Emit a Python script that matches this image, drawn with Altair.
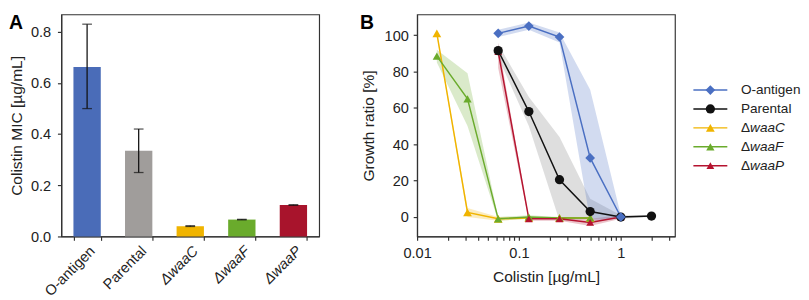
import altair as alt
import pandas as pd

FONT = "Liberation Sans"

# ---------------- Panel A data ----------------
strains = ["O-antigen", "Parental", "ΔwaaC", "ΔwaaF", "ΔwaaP"]
mic = [0.663, 0.335, 0.040, 0.066, 0.123]
mic_lo = [0.500, 0.250, 0.039, 0.065, 0.122]
mic_hi = [0.830, 0.420, 0.042, 0.067, 0.124]
bar_colors = ["#4a6cb8", "#a09d9b", "#f0b400", "#6aab2c", "#a8142c"]

# ---------------- Panel B data ----------------
series = ["O-antigen", "Parental", "ΔwaaC", "ΔwaaF", "ΔwaaP"]
line_colors = ["#4a6fc2", "#111111", "#f0b400", "#6aab2c", "#b5132f"]
band_colors = ["#4a6fc2", "#7a7a7a", "#f0b400", "#6aab2c", "#b5132f"]
shapes = ["diamond", "circle", "triangle-up", "triangle-up", "triangle-up"]
sizes = [100, 64, 70, 70, 70]

conc_waaC = [0.015625, 0.03125, 0.0625, 0.125, 0.25, 0.5]
mean_waaC = [101, 2.5, -1, -0.5, -0.5, -0.5]
lo_waaC = [100, 0, -2, -1, -1, -1]
hi_waaC = [102, 5, 0, 0, 0, 0]

conc_waaF = [0.015625, 0.03125, 0.0625, 0.125, 0.25, 0.5]
mean_waaF = [88.5, 65, -1, 0, -0.5, -0.5]
lo_waaF = [85, 50, -2, -1, -1, -1]
hi_waaF = [92, 79, 0, 1, 0, 0]

conc_waaP = [0.0625, 0.125, 0.25, 0.5, 1]
mean_waaP = [91, -1, -1, -3, 0]
lo_waaP = [82, -2, -2, -5, -1]
hi_waaP = [96, 0, 0, -1, 1]

conc_par = [0.0625, 0.125, 0.25, 0.5, 1, 2]
mean_par = [91.5, 58, 20.5, 3, 0, 0.5]
lo_par = [88, 50, -2, -1, -1, 0]
hi_par = [95, 66, 44, 10, 1, 1]

conc_oant = [0.0625, 0.125, 0.25, 0.5, 1]
mean_oant = [101, 105, 99, 32.5, 0]
lo_oant = [99, 103, 96, -2, -1]
hi_oant = [103, 107, 101.5, 70, 1]

x_ticks = [0.01, 0.02, 0.03, 0.04, 0.05, 0.06, 0.07, 0.08, 0.09,
           0.1, 0.2, 0.3, 0.4, 0.5, 0.6, 0.7, 0.8, 0.9, 1, 2, 3]

# legend table
leg_prefix = ["", "", "Δ", "Δ", "Δ"]
leg_name = ["O-antigen", "Parental", "waaC", "waaF", "waaP"]
leg_italic = [False, False, True, True, True]

# ---------------- build tables ----------------
dfA = pd.DataFrame({"strain": strains, "mic": mic, "lo": mic_lo, "hi": mic_hi})

parts = []
for name, c, m, lo, hi in [
    ("ΔwaaC", conc_waaC, mean_waaC, lo_waaC, hi_waaC),
    ("ΔwaaF", conc_waaF, mean_waaF, lo_waaF, hi_waaF),
    ("ΔwaaP", conc_waaP, mean_waaP, lo_waaP, hi_waaP),
    ("Parental", conc_par, mean_par, lo_par, hi_par),
    ("O-antigen", conc_oant, mean_oant, lo_oant, hi_oant),
]:
    parts.append(pd.DataFrame({"series": name, "conc": c, "mean": m, "lo": lo, "hi": hi}))
dfB = pd.concat(parts, ignore_index=True)

dfL = pd.DataFrame({"series": series, "prefix": leg_prefix, "name": leg_name,
                    "italic": leg_italic})

# ---------------- Panel A ----------------
W, H = 266, 229
frame = alt.ViewBackground(stroke="#333333", strokeWidth=1.2)

xA = alt.X("strain:N", sort=strains,
           scale=alt.Scale(paddingInner=0.47, paddingOuter=0.235),
           axis=alt.Axis(title=None, labelAngle=-45, tickBand="extent",
                         labelFontSize=15, tickSize=4, labelPadding=3,
                         labelFontStyle={"condition": {"test": "indexof(datum.label, 'Δ') == 0",
                                                       "value": "italic"},
                                         "value": "normal"}))
yA = alt.Y("mic:Q", scale=alt.Scale(domain=[0, 0.868], nice=False),
           axis=alt.Axis(values=[0, 0.2, 0.4, 0.6, 0.8], format=".1f",
                         title="Colistin MIC [µg/mL]", grid=False, labelFlush=False,
                         tickSize=4, labelPadding=7, titlePadding=6))

bars = alt.Chart(dfA).mark_bar().encode(
    x=xA, y=yA,
    color=alt.Color("strain:N", scale=alt.Scale(domain=strains, range=bar_colors), legend=None),
)
err = alt.Chart(dfA).mark_rule(color="#111111", strokeWidth=1.3).encode(
    x=alt.X("strain:N", sort=strains), y="lo:Q", y2="hi:Q")
cap_lo = alt.Chart(dfA).mark_tick(color="#111111", thickness=1.3, size=10).encode(
    x=alt.X("strain:N", sort=strains), y="lo:Q")
cap_hi = alt.Chart(dfA).mark_tick(color="#111111", thickness=1.3, size=10).encode(
    x=alt.X("strain:N", sort=strains), y="hi:Q")
labA = alt.Chart(pd.DataFrame({"t": ["A"]})).mark_text(
    font=FONT, fontSize=20, fontWeight="bold", align="left", baseline="top").encode(
    x=alt.value(-54), y=alt.value(-1), text="t:N")

panelA = alt.layer(bars, err, cap_lo, cap_hi, labA).properties(width=W, height=H, view=frame)

# ---------------- Panel B ----------------
xB = alt.X("conc:Q", scale=alt.Scale(type="log", domain=[0.01, 3.4], nice=False),
           axis=alt.Axis(values=x_ticks, title="Colistin [µg/mL]", grid=False,
                         labelFlush=False, labelOverlap=False,
                         tickSize=4, labelPadding=6, titlePadding=8, labelFontSize=15,
                         labelExpr="abs(datum.value-0.01)<1e-9 ? '0.01' : abs(datum.value-0.1)<1e-9 ? '0.1' : abs(datum.value-1)<1e-9 ? '1' : ''"))
yScaleB = alt.Scale(domain=[-10.7, 111.4], nice=False)
yAxisB = alt.Axis(values=[0, 20, 40, 60, 80, 100], title="Growth ratio [%]", grid=False,
                  labelFlush=False, tickSize=4, labelPadding=5, titlePadding=8)

band = alt.Chart(dfB).mark_area(opacity=0.25).encode(
    x=xB, y=alt.Y("lo:Q", scale=yScaleB, axis=yAxisB), y2="hi:Q",
    color=alt.Color("series:N", scale=alt.Scale(domain=series, range=band_colors), legend=None),
)
line = alt.Chart(dfB).mark_line(strokeWidth=1.5).encode(
    x=xB, y=alt.Y("mean:Q", scale=yScaleB, axis=yAxisB),
    color=alt.Color("series:N", scale=alt.Scale(domain=series, range=line_colors), legend=None),
)
pts = alt.Chart(dfB).mark_point(filled=True, opacity=1).encode(
    x=xB, y=alt.Y("mean:Q", scale=yScaleB, axis=yAxisB),
    color=alt.Color("series:N", scale=alt.Scale(domain=series, range=line_colors), legend=None),
    shape=alt.Shape("series:N", scale=alt.Scale(domain=series, range=shapes), legend=None),
    size=alt.Size("series:N", scale=alt.Scale(domain=series, range=sizes), legend=None),
)
labB = alt.Chart(pd.DataFrame({"t": ["B"]})).mark_text(
    font=FONT, fontSize=20, fontWeight="bold", align="left", baseline="top").encode(
    x=alt.value(-59), y=alt.value(-1), text="t:N")

panelB = alt.layer(band, line, pts, labB).resolve_scale(color="independent").properties(
    width=W, height=H, view=frame)

# ---------------- Legend panel ----------------
yL = alt.Y("series:N", sort=series,
           scale=alt.Scale(type="point", range=[78, 156], padding=0), axis=None)
cL = alt.Color("series:N", scale=alt.Scale(domain=series, range=line_colors), legend=None)
leg_rule = alt.Chart(dfL).mark_rule(strokeWidth=1.5).encode(
    x=alt.value(0), x2=alt.value(35), y=yL, color=cL)
leg_pt = alt.Chart(dfL).mark_point(filled=True, opacity=1).encode(
    x=alt.value(17.5), y=yL, color=cL,
    shape=alt.Shape("series:N", scale=alt.Scale(domain=series, range=shapes), legend=None),
    size=alt.Size("series:N", scale=alt.Scale(domain=series, range=[70, 80, 80, 80, 80]), legend=None))
leg_pre = alt.Chart(dfL).mark_text(align="left", baseline="middle", fontSize=14,
                                   font=FONT, color="#222").encode(
    x=alt.value(49), y=yL, text="prefix:N")
leg_norm = alt.Chart(dfL).transform_filter("!datum.italic").mark_text(
    align="left", baseline="middle", fontSize=14, font=FONT, color="#222").encode(
    x=alt.value(49), y=yL, text="name:N")
leg_ital = alt.Chart(dfL).transform_filter("datum.italic").mark_text(
    align="left", baseline="middle", fontSize=14, font=FONT, fontStyle="italic",
    color="#222").encode(
    x=alt.value(58.5), y=yL, text="name:N")
panelL = alt.layer(leg_rule, leg_pt, leg_pre, leg_norm, leg_ital).resolve_scale(
    color="independent").properties(width=92, height=H,
                                     view=alt.ViewBackground(strokeOpacity=0))

chart = alt.hconcat(
    alt.hconcat(panelA, panelB, spacing=40),
    panelL, spacing=17,
).properties(padding=0).configure_view(stroke=None).configure_axis(
    labelFont=FONT, titleFont=FONT, labelFontSize=15, titleFontSize=16,
    labelColor="#222", titleColor="#222", titleFontWeight="normal",
    domainColor="#333", tickColor="#333", domainWidth=1.2, tickWidth=1.2,
)

chart.save("out.html", embed_options={"renderer": "svg", "actions": False})
